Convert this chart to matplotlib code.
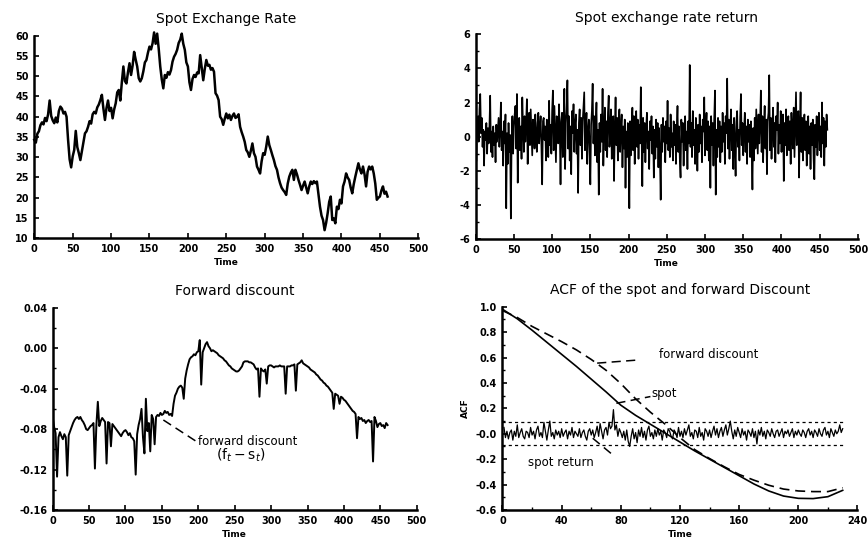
import numpy as np
import matplotlib
matplotlib.use("Agg")
import matplotlib.pyplot as plt
from matplotlib.ticker import MultipleLocator, FixedLocator, FormatStrFormatter

plt.rcParams['font.family'] = ['DejaVu Sans']
plt.rcParams['axes.unicode_minus'] = False

# spot exchange rate, sampled every 2 periods
spot = [
    34.3, 33.6, 35.8, 36.4, 37.9, 38.6, 38.1, 39.7, 38.9, 40.6,
    44.0, 40.2, 39.1, 38.4, 39.8, 38.6, 41.4, 42.5, 42.0, 40.8,
    41.2, 40.0, 34.3, 29.5, 27.5, 30.2, 31.8, 36.5, 32.5, 31.0,
    29.3, 31.5, 33.6, 35.9, 36.4, 37.5, 38.9, 38.3, 40.6, 41.2,
    40.8, 42.3, 43.0, 44.1, 45.4, 42.0, 39.2, 42.1, 44.0, 41.4,
    42.2, 39.6, 41.8, 43.3, 46.0, 46.6, 44.0, 48.5, 52.4, 48.8,
    48.2, 51.0, 53.2, 50.3, 52.6, 56.0, 54.1, 52.4, 49.5, 48.7,
    49.5, 51.2, 53.4, 54.0, 55.8, 57.3, 56.6, 58.1, 60.8, 58.0,
    60.5, 56.8, 52.4, 49.2, 47.0, 50.3, 49.6, 51.0, 50.4, 51.5,
    53.6, 54.8, 55.5, 56.5, 58.2, 59.0, 60.5, 58.0, 56.5, 53.4,
    52.4, 48.5, 46.6, 49.3, 50.3, 49.8, 50.9, 50.7, 55.2, 52.0,
    49.0, 51.8, 54.0, 52.6, 52.8, 51.6, 52.0, 51.1, 45.8, 45.2,
    44.1, 40.0, 39.4, 38.0, 39.5, 40.8, 39.6, 40.5, 39.2, 40.2,
    40.8, 39.7, 40.0, 40.6, 37.5, 36.2, 35.1, 33.8, 31.8, 31.2,
    30.1, 31.6, 33.4, 31.0, 30.1, 27.7, 26.9, 26.0, 29.0, 31.0,
    30.6, 32.6, 35.1, 33.0, 31.8, 30.5, 29.3, 27.8, 26.9, 25.0,
    23.6, 22.5, 21.9, 21.4, 20.7, 23.5, 25.2, 26.2, 26.9, 24.4,
    26.9, 25.8, 24.4, 23.2, 21.9, 23.0, 24.0, 22.6, 21.1, 22.8,
    24.0, 23.4, 24.1, 23.6, 24.0, 21.0, 17.8, 15.6, 14.5, 12.0,
    13.8, 16.2, 19.0, 20.3, 14.5, 14.9, 13.7, 17.8, 17.2, 19.5,
    18.6, 22.8, 24.0, 26.0, 25.0, 24.4, 22.5, 21.1, 23.4, 25.2,
    26.8, 28.5, 27.0, 26.0, 27.7, 25.8, 22.8, 26.4, 27.7, 27.0,
    27.7, 26.0, 23.5, 19.5, 20.0, 20.3, 21.8, 22.8, 21.0, 21.5,
    20.3,
]

# spot return (%), periods 1..460
ret = [
    -1.4, 0.9, 1.2, -0.3, 1.6, 2.5, 0.2, 1.1, -0.6, 0.4, -1.7, 0.3, -0.2, 0.8, -1.0, 0.5, -0.4, 0.6, 2.4, -0.9,
    0.3, -1.2, 0.6, -0.5, 0.2, -1.5, 0.7, -0.3, 0.4, 1.1, -0.6, 0.5, 2.0, -0.8, 0.3, -1.7, 0.9, -0.4, 1.3, -4.2,
    0.2, -1.6, 0.8, -0.9, 0.1, -4.8, -0.5, 1.2, -1.0, 0.6, 1.3, 1.8, -0.7, 2.5, -2.7, 0.4, 1.1, -0.8, 0.6, -1.3,
    2.3, 0.5, -0.9, 1.2, -0.3, 0.8, 2.2, -1.6, 0.7, 1.4, -0.5, 1.6, 0.2, -1.1, 1.0, 0.4, -0.7, 1.3, 0.1, -0.9,
    0.8, 1.4, -0.4, 0.5, 1.2, -0.6, -2.8, 0.9, 1.1, -0.2, 0.6, -1.4, 1.0, 0.3, -1.2, 2.1, -0.5, 0.7, -1.0, 1.5,
    2.7, -0.8, 1.8, 0.2, -1.5, 1.2, 0.6, -0.4, 1.9, 0.5, -2.8, 0.9, 1.4, -1.2, 0.3, 2.8, -1.9, 0.8, 1.6, 3.3,
    -0.7, 1.2, -1.4, 0.6, -2.2, 1.5, 0.2, 1.9, -0.9, 0.7, 1.3, -1.0, 0.4, -3.3, 0.8, 1.6, -0.5, 1.1, -1.3, 0.9,
    1.8, 2.6, -0.8, 0.5, 1.4, -1.6, 0.3, 1.0, -0.6, -2.8, 0.7, 1.5, 3.1, -0.4, 1.2, -1.1, 0.6, 2.0, -1.5, 0.4,
    -3.4, 0.8, -0.9, 1.3, -0.3, 2.8, -1.7, 0.5, 1.7, -0.8, 0.9, -1.2, 1.4, 2.4, -0.6, 0.3, 1.6, -1.3, 0.7, 1.2,
    -2.6, 0.4, 2.3, -0.5, 1.1, -1.4, 0.8, 1.6, -0.9, 0.5, 1.3, -1.8, 0.6, -0.7, 1.0, -3.0, 0.3, -1.2, 0.8, -0.5,
    -4.2, 0.9, -1.1, 0.6, 1.7, -0.8, 1.2, -1.6, 0.4, 1.5, -0.6, 1.0, -1.3, 0.7, -0.4, 2.9, 0.2, -2.9, 1.1, -0.9,
    0.8, -1.5, 0.5, 1.4, -0.7, 0.3, -1.9, 0.9, -0.2, 1.2, -1.0, 0.6, -2.4, 0.4, -1.3, 1.0, -0.6, 0.8, -1.8, 0.5,
    -1.1, -3.7, 0.7, -0.9, 1.1, -0.3, 0.6, -1.5, 0.9, -0.4, 2.1, -0.8, 0.5, -1.2, 1.3, -0.6, 0.2, -1.4, 0.9, -0.5,
    0.7, -1.6, 0.4, 1.8, -0.9, 0.6, -1.3, -2.4, 1.0, -0.3, 0.8, -1.7, 0.5, 1.2, -0.8, 0.3, -1.9, 0.9, -0.4, 4.2,
    -0.6, 0.8, -1.2, 1.5, -0.5, 0.4, -1.6, 1.1, 0.2, -2.0, 0.7, -0.9, 1.3, -0.4, 0.6, -1.5, 1.0, 0.3, 2.3, -1.1,
    0.5, 1.4, -0.8, 0.9, -1.4, 0.6, -3.0, 1.2, -0.5, 0.8, -1.7, 1.0, 2.7, -3.4, 0.4, -1.2, 1.1, -0.6, 0.9, -1.5,
    0.6, -0.9, 1.4, -0.3, 0.8, -1.6, 1.2, 0.2, 3.4, -0.7, 1.0, -1.3, 0.5, 1.6, -0.8, 0.7, -1.9, 1.1, -0.4, -2.3,
    0.9, 1.5, -0.6, 0.4, -1.4, 1.2, 2.5, -0.5, 0.8, -1.1, 0.3, 1.4, -0.9, 0.6, -1.6, 1.0, -0.3, 0.7, -1.2, 0.9,
    -0.6, -3.1, 0.5, -1.4, 1.1, -0.7, 1.6, 0.3, -1.0, 1.3, -0.4, 0.8, 2.7, -0.9, 1.2, -1.5, 0.6, 1.8, -0.7, 1.0,
    -2.2, 0.9, 1.4, 3.6, -0.8, 1.1, -1.3, 0.5, 1.7, -0.6, 0.8, -1.5, 1.2, 0.4, 2.0, -1.0, 0.7, -0.4, 1.5, -0.9,
    0.6, 1.3, -2.6, 0.8, -0.5, 1.6, -1.1, 0.4, 1.2, -0.8, 0.9, -1.6, 1.4, 0.2, -0.7, 1.7, -1.2, 0.8, 2.6, -0.5,
    0.7, 1.5, -2.4, 0.6, 2.6, -0.9, 1.1, -1.4, 0.5, 1.3, -0.8, 0.9, -1.7, 0.4, 1.2, -1.0, 0.6, -1.9, 0.8, -0.5,
    1.0, -1.3, -2.5, 0.7, -0.6, 1.2, -1.1, 0.5, 1.4, -0.8, 0.6, -1.2, 2.0, -0.4, 1.1, -1.7, 0.9, -0.6, 1.3, 0.4,
]

# forward discount (f - s), sampled every 2 periods
fwd = [
    -0.068, -0.078, -0.084, -0.127, -0.088, -0.083, -0.087, -0.090, -0.085, -0.088,
    -0.126, -0.086, -0.082, -0.078, -0.074, -0.071, -0.069, -0.068, -0.070, -0.068,
    -0.071, -0.073, -0.076, -0.080, -0.081, -0.079, -0.077, -0.076, -0.074, -0.119,
    -0.076, -0.053, -0.077, -0.072, -0.069, -0.071, -0.073, -0.114, -0.073, -0.074,
    -0.097, -0.075, -0.077, -0.079, -0.081, -0.083, -0.085, -0.087, -0.084, -0.082,
    -0.081, -0.083, -0.086, -0.084, -0.088, -0.089, -0.092, -0.125, -0.085, -0.076,
    -0.070, -0.060, -0.088, -0.104, -0.050, -0.082, -0.074, -0.102, -0.066, -0.070,
    -0.095, -0.068, -0.066, -0.067, -0.064, -0.066, -0.065, -0.062, -0.064, -0.063,
    -0.066, -0.065, -0.067, -0.055, -0.047, -0.044, -0.040, -0.038, -0.037, -0.039,
    -0.050, -0.030, -0.022, -0.016, -0.011, -0.009, -0.008, -0.006, -0.007, -0.004,
    -0.003, 0.008, -0.036, -0.004, 0.000, 0.004, 0.006, 0.002, 0.000, -0.003,
    -0.002, -0.003, -0.004, -0.005, -0.007, -0.008, -0.009, -0.010, -0.012, -0.013,
    -0.015, -0.017, -0.018, -0.020, -0.021, -0.022, -0.023, -0.023, -0.022, -0.020,
    -0.018, -0.014, -0.013, -0.013, -0.013, -0.014, -0.014, -0.015, -0.016, -0.019,
    -0.021, -0.020, -0.048, -0.020, -0.022, -0.023, -0.021, -0.035, -0.018, -0.017,
    -0.017, -0.018, -0.019, -0.018, -0.018, -0.018, -0.017, -0.018, -0.018, -0.018,
    -0.045, -0.018, -0.018, -0.018, -0.017, -0.017, -0.016, -0.042, -0.016, -0.015,
    -0.014, -0.012, -0.015, -0.016, -0.017, -0.018, -0.019, -0.021, -0.022, -0.023,
    -0.024, -0.026, -0.027, -0.029, -0.031, -0.032, -0.034, -0.035, -0.037, -0.038,
    -0.040, -0.042, -0.044, -0.060, -0.045, -0.046, -0.047, -0.055, -0.048, -0.049,
    -0.051, -0.052, -0.054, -0.056, -0.058, -0.060, -0.062, -0.063, -0.065, -0.089,
    -0.068, -0.070, -0.069, -0.072, -0.071, -0.074, -0.072, -0.071, -0.073, -0.072,
    -0.112, -0.068, -0.072, -0.078, -0.075, -0.074, -0.077, -0.076, -0.079, -0.074,
    -0.076,
]

# autocorrelations
acf_lag = [0, 10, 20, 30, 40, 50, 60, 70, 80, 90, 100, 110, 120, 130, 140, 150,
           160, 170, 180, 190, 200, 210, 220, 230]
acf_spot = [0.98, 0.905, 0.815, 0.72, 0.625, 0.53, 0.43, 0.33, 0.225, 0.145, 0.075, 0.005,
            -0.065, -0.135, -0.20, -0.265, -0.33, -0.395, -0.45, -0.49, -0.508, -0.51, -0.495, -0.445]
acf_fwd = [0.97, 0.915, 0.845, 0.785, 0.725, 0.66, 0.585, 0.50, 0.395, 0.275, 0.17, 0.075,
           -0.03, -0.125, -0.195, -0.26, -0.32, -0.365, -0.405, -0.435, -0.45, -0.455, -0.455, -0.425]
# lags 1..230
acf_ret = [
    0.05, -0.03, 0.02, -0.04, 0.01, 0.03, -0.05, 0.02, -0.02, 0.07, -0.03, 0.01, 0.04, -0.02, -0.04, 0.02, 0.01, -0.03, 0.05, -0.01,
    0.02, -0.04, 0.03, 0.06, -0.02, 0.01, -0.03, 0.09, 0.02, -0.05, 0.03, 0.10, -0.02, 0.01, -0.04, 0.03, -0.01, 0.02, -0.03, 0.04,
    -0.02, 0.01, 0.03, -0.04, 0.02, -0.01, 0.05, -0.03, 0.02, 0.00, -0.02, 0.04, -0.03, 0.01, 0.03, -0.02, -0.05, 0.02, 0.04, -0.01,
    0.03, -0.03, 0.01, 0.06, -0.02, 0.08, 0.02, -0.04, 0.03, 0.05, -0.01, 0.09, 0.04, 0.06, 0.19, 0.03, 0.07, -0.02, 0.04, 0.01,
    -0.03, 0.02, -0.05, 0.03, -0.06, -0.10, -0.02, 0.04, -0.04, 0.01, -0.07, 0.03, -0.02, 0.05, -0.03, 0.02, -0.05, 0.03, 0.06, -0.02,
    0.01, -0.04, 0.03, -0.02, 0.04, -0.01, 0.02, -0.05, 0.03, 0.01, -0.03, 0.04, 0.02, -0.02, -0.04, 0.03, 0.01, -0.03, 0.05, -0.02,
    0.02, -0.03, 0.04, -0.01, 0.03, 0.07, -0.02, 0.01, -0.04, 0.03, 0.02, -0.03, 0.05, -0.02, 0.01, -0.05, 0.04, 0.02, -0.02, 0.03,
    -0.03, 0.02, 0.06, -0.01, 0.04, -0.03, 0.02, 0.05, -0.02, 0.03, 0.07, -0.01, 0.04, 0.10, 0.02, -0.04, 0.03, -0.02, 0.05, 0.01,
    -0.03, 0.04, -0.01, 0.02, -0.05, 0.03, 0.01, -0.02, 0.04, -0.03, 0.02, -0.08, 0.03, -0.01, 0.05, -0.02, 0.02, -0.04, 0.03, 0.01,
    -0.02, 0.04, 0.00, -0.03, 0.02, 0.03, -0.02, 0.01, 0.04, -0.03, 0.02, 0.00, 0.03, -0.02, 0.01, 0.04, -0.03, 0.02, -0.01, 0.03,
    0.00, -0.02, 0.03, 0.01, -0.03, 0.02, 0.04, -0.01, 0.02, -0.03, 0.03, 0.01, -0.02, 0.04, 0.00, -0.02, 0.03, 0.05, -0.01, 0.02,
    -0.03, 0.04, 0.01, -0.02, 0.03, 0.00, 0.02, 0.07, 0.01, 0.04,
]
acf_band = 0.09
acf_yticks = [-0.6, -0.4, -0.2, 0.0, 0.2, 0.4, 0.6, 0.8, 1.0]
acf_ylabels = ["-0.6", "-0.4", "-0.2", "-0.0", "0.2", "0.4", "0.6", "0.8", "1.0"]

t2 = np.arange(len(spot)) * 2
t1 = np.arange(1, len(ret) + 1)
tf = np.arange(len(fwd)) * 2
lag_r = np.arange(1, len(acf_ret) + 1)

DASH = (0, (6, 3.5))


def style(ax, title):
    for s in ['top', 'right']:
        ax.spines[s].set_visible(False)
    for s in ['left', 'bottom']:
        ax.spines[s].set_linewidth(1.8)
    ax.tick_params(which='major', direction='in', length=3.5, width=1.2, pad=4)
    ax.tick_params(which='minor', direction='in', length=2, width=1.0)
    for lab in ax.get_xticklabels() + ax.get_yticklabels():
        lab.set_fontsize(7)
        lab.set_fontweight('bold')
    ax.set_title(title, fontsize=10, pad=9)
    ax.set_xlabel('Time', fontsize=6.5, fontweight='bold', labelpad=3)


fig = plt.figure(figsize=(8.68, 5.38), dpi=100)

# top left: spot level
ax1 = fig.add_axes([0.0395, 0.5571, 0.4424, 0.3766])
ax1.plot(t2, spot, color='black', lw=1.8, clip_on=False)
ax1.set_xlim(0, 500)
ax1.set_ylim(10, 60)
ax1.xaxis.set_major_locator(MultipleLocator(50))
ax1.yaxis.set_major_locator(MultipleLocator(5))
style(ax1, 'Spot Exchange Rate')

# top right: spot return
ax2 = fig.add_axes([0.548, 0.5558, 0.4404, 0.3805])
ax2.plot(t1, ret, color='black', lw=1.2)
ax2.set_xlim(0, 500)
ax2.set_ylim(-6, 6)
ax2.xaxis.set_major_locator(MultipleLocator(50))
ax2.yaxis.set_major_locator(MultipleLocator(2))
ax2.yaxis.set_minor_locator(MultipleLocator(1))
style(ax2, 'Spot exchange rate return')

# bottom left: forward discount
ax3 = fig.add_axes([0.0607, 0.052, 0.4194, 0.376])
ax3.plot(tf, fwd, color='black', lw=1.4)
ax3.set_xlim(0, 500)
ax3.set_ylim(-0.16, 0.04)
ax3.xaxis.set_major_locator(MultipleLocator(50))
ax3.yaxis.set_major_locator(MultipleLocator(0.04))
ax3.yaxis.set_minor_locator(MultipleLocator(0.02))
ax3.yaxis.set_major_formatter(FormatStrFormatter('%.2f'))
ax3.plot([152, 198], [-0.071, -0.0925], color='black', lw=1.1, ls=DASH)
ax3.text(200, -0.0925, 'forward discount', fontsize=8.5, va='center', ha='left')
ax3.text(258, -0.106, r'$(\mathrm{f}_t-\mathrm{s}_t)$', fontsize=10, va='center', ha='center')
style(ax3, 'Forward discount')

# bottom right: autocorrelations
ax4 = fig.add_axes([0.5789, 0.052, 0.409, 0.3779])
ax4.plot(acf_lag, acf_spot, color='black', lw=1.2)
ax4.plot(acf_lag, acf_fwd, color='black', lw=1.2, ls=DASH)
ax4.plot(lag_r, acf_ret, color='black', lw=0.9)
for b in (acf_band, -acf_band):
    ax4.plot([0, 230], [b, b], color='black', lw=0.9, ls=(0, (2.5, 2.5)))
ax4.plot([64, 91], [0.556, 0.58], color='black', lw=1.1, ls=DASH)
ax4.text(106, 0.62, 'forward discount', fontsize=8.5, va='center', ha='left')
ax4.plot([77, 100], [0.24, 0.293], color='black', lw=1.1, ls=DASH)
ax4.text(101, 0.32, 'spot', fontsize=8.5, va='center', ha='left')
ax4.plot([61, 76], [-0.035, -0.18], color='black', lw=1.1, ls=DASH)
ax4.text(17, -0.227, 'spot return', fontsize=8.5, va='center', ha='left')
ax4.set_xlim(0, 240)
ax4.set_ylim(-0.6, 1.0)
ax4.xaxis.set_major_locator(MultipleLocator(40))
ax4.xaxis.set_minor_locator(MultipleLocator(20))
ax4.yaxis.set_major_locator(FixedLocator(acf_yticks))
ax4.set_yticklabels(acf_ylabels)
ax4.yaxis.set_minor_locator(MultipleLocator(0.1))
ax4.set_ylabel('ACF', fontsize=6.5, fontweight='bold', labelpad=4)
style(ax4, 'ACF of the spot and forward Discount')

fig.savefig('out.png', dpi=100)
